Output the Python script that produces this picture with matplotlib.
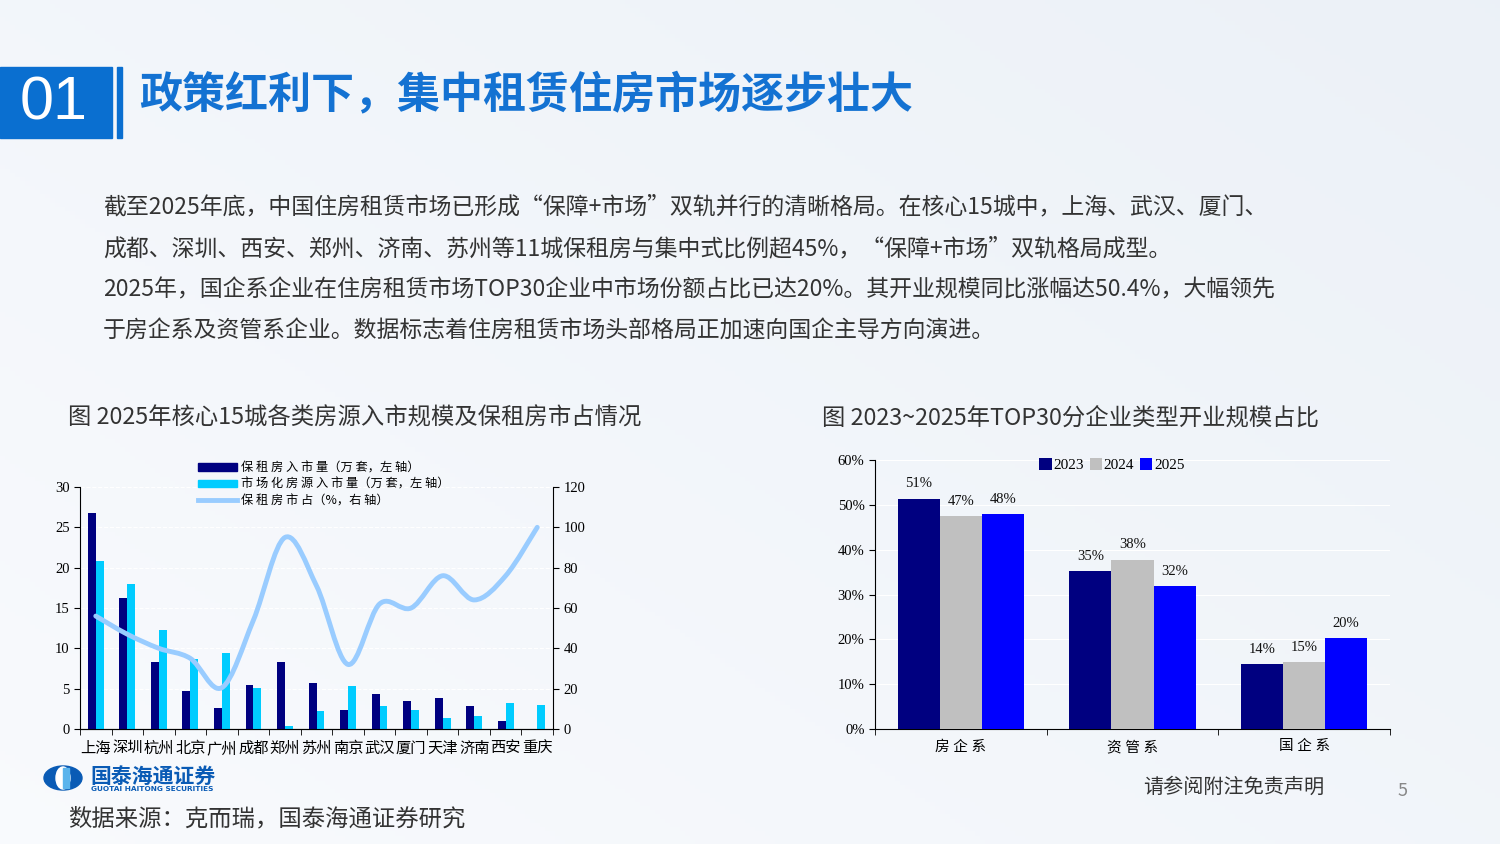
import numpy as np
import matplotlib
matplotlib.use("Agg")
import matplotlib.pyplot as plt
from matplotlib.path import Path
from matplotlib.patches import PathPatch, Rectangle, Ellipse
from matplotlib.lines import Line2D

plt.rcParams['font.family'] = ['Noto Sans CJK SC', 'DejaVu Sans']
SERIF = ['Liberation Serif', 'Noto Sans CJK SC']

# ---- data: left chart
cities = ['上海', '深圳', '杭州', '北京', '广州', '成都', '郑州', '苏州', '南京', '武汉', '厦门', '天津', '济南', '西安', '重庆']
bzf = [26.8, 16.2, 8.3, 4.7, 2.6, 5.5, 8.3, 5.7, 2.4, 4.3, 3.5, 3.9, 2.8, 1.0, 0.0]
market = [20.8, 18.0, 12.3, 8.7, 9.4, 5.1, 0.4, 2.2, 5.3, 2.8, 2.4, 1.4, 1.6, 3.2, 3.0]
share = [56, 47, 40, 35, 20.5, 54, 95, 71, 32, 62, 60, 76, 64, 76, 100]
left_ticks = [0, 5, 10, 15, 20, 25, 30]
right_ticks = [0, 20, 40, 60, 80, 100, 120]

# ---- data: right chart
types = ['房 企 系', '资 管 系', '国 企 系']
years = ['2023', '2024', '2025']
y2023 = [51.4, 35.3, 14.4]
y2024 = [47.4, 37.8, 14.9]
y2025 = [47.9, 31.9, 20.3]
pct_ticks = [0, 10, 20, 30, 40, 50, 60]

fig = plt.figure(figsize=(15, 8.44), dpi=100)

# background gradient
bg = fig.add_axes([0, 0, 1, 1], zorder=-10)
gx = np.linspace(0, 1, 300)
gy = np.linspace(0, 1, 200)
GX, GY = np.meshgrid(gx, gy)
c1 = np.array([0.975, 0.982, 0.993])
c2 = np.array([0.925, 0.945, 0.970])
t = np.clip(0.55 * GX + 0.45 * GY, 0, 1)[..., None]
img = c1 * (1 - t) + c2 * t
bg.imshow(img, extent=[0, 1, 0, 1], aspect='auto', origin='lower')
bg.set_xlim(0, 1)
bg.set_ylim(0, 1)
bg.axis('off')

# header
W, H = 1500, 844
def fx(px): return px / W
def fy(py): return 1 - py / H

fig.patches.append(Rectangle((0, fy(138)), fx(112), (138 - 67) / H, transform=fig.transFigure,
                             color='#0a6fd0', zorder=1))
fig.patches.append(Rectangle((fx(117), fy(138)), fx(5), (138 - 67) / H, transform=fig.transFigure,
                             color='#0a6fd0', zorder=1))
fig.text(fx(54), fy(104), '01', color='white', fontsize=44, ha='center', va='center',
         family=['Liberation Sans', 'DejaVu Sans'])
fig.text(fx(139), fy(94), '政策红利下，集中租赁住房市场逐步壮大', color='#1472d2', fontsize=31,
         fontweight='bold', ha='left', va='center')

body = [
    '截至2025年底，中国住房租赁市场已形成“保障+市场”双轨并行的清晰格局。在核心15城中，上海、武汉、厦门、',
    '成都、深圳、西安、郑州、济南、苏州等11城保租房与集中式比例超45%，“保障+市场”双轨格局成型。',
    '2025年，国企系企业在住房租赁市场TOP30企业中市场份额占比已达20%。其开业规模同比涨幅达50.4%，大幅领先',
    '于房企系及资管系企业。数据标志着住房租赁市场头部格局正加速向国企主导方向演进。',
]
for i, line in enumerate(body):
    fig.text(fx(103), fy(207 + i * 41.5), line, color='#333333', fontsize=16.5, ha='left', va='center')

fig.text(fx(68), fy(418), '图 2025年核心15城各类房源入市规模及保租房市占情况', color='#333333',
         fontsize=16.8, ha='left', va='center')
fig.text(fx(822), fy(418), '图 2023~2025年TOP30分企业类型开业规模占比', color='#333333',
         fontsize=16.8, ha='left', va='center')

# ---- left chart
ax = fig.add_axes([fx(80), fy(729), fx(553) - fx(80), (729 - 487) / H])
ax.set_facecolor('none')
x = np.arange(len(cities))
bw = 0.25
ax.bar(x - bw / 2, bzf, bw, color='#000080', label='保租房入市量（万套，左轴）', zorder=3)
ax.bar(x + bw / 2, market, bw, color='#00ccff', label='市场化房源入市量（万套，左轴）', zorder=3)
ax.set_xlim(-0.5, len(cities) - 0.5)
ax.set_ylim(0, 30)
ax.set_yticks(left_ticks)
ax.set_xticks(x)
ax.set_xticklabels(cities)
ax.set_xticks(np.arange(-0.5, len(cities)), minor=True)
ax.tick_params(axis='x', which='major', length=0, pad=9)
ax.tick_params(axis='x', which='minor', length=4, direction='out')
ax.tick_params(axis='y', length=4, direction='out')
for lab in ax.get_xticklabels():
    lab.set_family(SERIF)
    lab.set_fontsize(11)
for lab in ax.get_yticklabels():
    lab.set_family(SERIF)
    lab.set_fontsize(10.5)
ax.spines['top'].set_visible(False)
ax.spines['right'].set_visible(False)
ax.grid(axis='y', color='white', linestyle='--', linewidth=0.8, zorder=0)

ax2 = ax.twinx()
ax2.set_ylim(0, 120)
ax2.set_yticks(right_ticks)
ax2.tick_params(axis='y', length=4, direction='out')
for lab in ax2.get_yticklabels():
    lab.set_family(SERIF)
    lab.set_fontsize(10.5)
ax2.spines['top'].set_visible(False)
ax2.spines['left'].set_visible(False)

# smooth curve (Catmull-Rom as cubic Bezier)
pts = np.column_stack([x, share]).astype(float)
ext = np.vstack([pts[0], pts, pts[-1]])
verts = [tuple(pts[0])]
codes = [Path.MOVETO]
for i in range(len(pts) - 1):
    p0, p1, p2, p3 = ext[i], ext[i + 1], ext[i + 2], ext[i + 3]
    c1p = p1 + (p2 - p0) / 6
    c2p = p2 - (p3 - p1) / 6
    verts += [tuple(c1p), tuple(c2p), tuple(p2)]
    codes += [Path.CURVE4] * 3
ax2.add_patch(PathPatch(Path(verts, codes), fill=False, edgecolor='#99ccff', lw=3.5,
                        capstyle='round', joinstyle='round', zorder=4))

handles = [Rectangle((0, 0), 1, 1, color='#000080'), Rectangle((0, 0), 1, 1, color='#00ccff'),
           Line2D([], [], color='#99ccff', lw=3.5)]
labels = ['保 租 房 入 市 量（万 套，左 轴）', '市 场 化 房 源 入 市 量（万 套，左 轴）', '保 租 房 市 占（%，右 轴）']
fig.legend(handles, labels, loc='upper left', bbox_to_anchor=(fx(192), fy(455)), frameon=False,
           fontsize=8.8, handlelength=3.2, handleheight=0.6, labelspacing=0.3, borderpad=0,
           handletextpad=0.3)

# ---- right chart
bx = fig.add_axes([fx(875), fy(729), fx(1390) - fx(875), (729 - 460) / H])
bx.set_facecolor('none')
xr = np.arange(len(types))
w = 0.245
series = [y2023, y2024, y2025]
cols = ['#000080', '#c0c0c0', '#0000ff']
offs = [-w, 0, w]
for vals, col, off, yr in zip(series, cols, offs, years):
    bars = bx.bar(xr + off, vals, w, color=col, label=yr, zorder=3)
    for b, v in zip(bars, vals):
        bx.text(b.get_x() + b.get_width() / 2, v + 1.8, f'{v:.0f}%', ha='center', va='bottom',
                fontsize=10.5, family=SERIF, color='#111111')
bx.set_xlim(-0.5, 2.5)
bx.set_ylim(0, 60)
bx.set_yticks(pct_ticks)
bx.set_yticklabels([f'{v}%' for v in pct_ticks])
bx.set_xticks(xr)
bx.set_xticklabels(types)
bx.set_xticks([-0.5, 0.5, 1.5, 2.5], minor=True)
bx.tick_params(axis='x', which='major', length=0, pad=8)
bx.tick_params(axis='x', which='minor', length=4, direction='out')
bx.tick_params(axis='y', length=4, direction='out')
for lab in bx.get_xticklabels() + bx.get_yticklabels():
    lab.set_family(SERIF)
    lab.set_fontsize(10.5)
bx.spines['top'].set_visible(False)
bx.spines['right'].set_visible(False)
bx.grid(axis='y', color='white', linestyle='-', linewidth=0.8, zorder=0)
bx.legend(loc='upper center', bbox_to_anchor=(0.46, 1.035), ncol=3, frameon=False,
          prop={'family': SERIF, 'size': 11}, handlelength=0.8, handleheight=0.8,
          handletextpad=0.1, columnspacing=0.4, borderpad=0)

# ---- footer
fig.patches.append(Ellipse((fx(63), fy(778)), fx(38), 24 / H, transform=fig.transFigure,
                           color='#0a5bb5', zorder=2))
fig.patches.append(Ellipse((fx(63), fy(778)), fx(14), 22 / H, transform=fig.transFigure,
                           color='white', zorder=3))
fig.patches.append(Rectangle((fx(63), fy(788)), fx(6), 20 / H, transform=fig.transFigure,
                             color='#5ab4ec', zorder=4))
fig.text(fx(90), fy(776), '国泰海通证券', color='#0a5bb5', fontsize=15, fontweight='bold',
         ha='left', va='center')
fig.text(fx(91), fy(789), 'GUOTAI HAITONG SECURITIES', color='#0a5bb5', fontsize=5.3,
         fontweight='bold', ha='left', va='center', family=['DejaVu Sans'])
fig.text(fx(68), fy(819), '数据来源：克而瑞，国泰海通证券研究', color='#333333', fontsize=16.8,
         ha='left', va='center')
fig.text(fx(1143), fy(787), '请参阅附注免责声明', color='#333333', fontsize=14.5, ha='left', va='center')
fig.text(fx(1403), fy(791), '5', color='#888888', fontsize=13, ha='center', va='center')

fig.savefig('out.png', dpi=100)
